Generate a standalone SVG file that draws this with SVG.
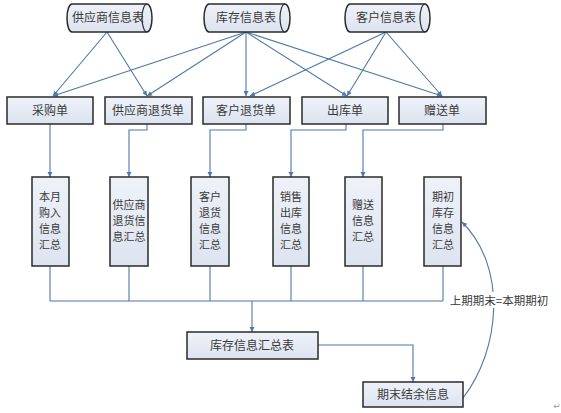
<svg xmlns="http://www.w3.org/2000/svg" width="561" height="413" viewBox="0 0 561 413">
<defs>
<linearGradient id="g" x1="0" y1="0" x2="0" y2="1"><stop offset="0" stop-color="#eef1f8"/><stop offset="1" stop-color="#dde4f0"/></linearGradient>
<marker id="a" markerWidth="6" markerHeight="6" refX="5" refY="3" orient="auto" markerUnits="userSpaceOnUse"><path d="M0,0.5 L5,3 L0,5.5 Z" fill="#4f77aa"/></marker>
</defs>
<style>
.b{fill:url(#g);stroke:#2a2a2a;stroke-width:1.5}
.t{font-family:"Noto Sans CJK SC","Noto Sans CJK JP",sans-serif;font-size:12px;fill:#3a3a3a;text-anchor:middle}
.v{font-size:11px}
.c{fill:none;stroke:#4f77aa;stroke-width:1.1}
</style>
<rect width="561" height="413" fill="#fff"/>
<g id="connectors">
<path class="c" marker-end="url(#a)" d="M107,32 L53,96"/>
<path class="c" marker-end="url(#a)" d="M107,32 L147,96"/>
<path class="c" marker-end="url(#a)" d="M246,32 L53,96"/>
<path class="c" marker-end="url(#a)" d="M246,32 L147,96"/>
<path class="c" marker-end="url(#a)" d="M246,32 L246,96"/>
<path class="c" marker-end="url(#a)" d="M246,32 L347,96"/>
<path class="c" marker-end="url(#a)" d="M246,32 L442,96"/>
<path class="c" marker-end="url(#a)" d="M386,32 L250,96"/>
<path class="c" marker-end="url(#a)" d="M386,32 L347,96"/>
<path class="c" marker-end="url(#a)" d="M386,32 L442,96"/>
<path class="c" marker-end="url(#a)" d="M50,124 V177"/>
<path class="c" marker-end="url(#a)" d="M147,124 V130 H129 V177"/>
<path class="c" marker-end="url(#a)" d="M246,124 V130 H210 V177"/>
<path class="c" marker-end="url(#a)" d="M346,124 V130 H291 V177"/>
<path class="c" marker-end="url(#a)" d="M443,124 V130 H363 V177"/>
<path class="c" d="M50,266 V301 M129,266 V301 M210,266 V301 M291,266 V301 M363,266 V301 M443,266 V301 M50,301 H443"/>
<path class="c" marker-end="url(#a)" d="M252,301 V332"/>
<path class="c" marker-end="url(#a)" d="M318,345 H413 V382"/>
<path class="c" marker-end="url(#a)" d="M463,398 C500,350 508,268 462,222"/>
</g>
<g id="n1"><path class="b" d="M72,4 H147 A5,14 0 0 1 147,32 H72 A5,14 0 0 1 72,4 Z"/><path fill="none" stroke="#2a2a2a" stroke-width="1.2" d="M147,4 A5,14 0 0 0 147,32"/><text class="t" x="108" y="22">供应商信息表</text></g>
<g id="n2"><path class="b" d="M209,4 H285 A5,14 0 0 1 285,32 H209 A5,14 0 0 1 209,4 Z"/><path fill="none" stroke="#2a2a2a" stroke-width="1.2" d="M285,4 A5,14 0 0 0 285,32"/><text class="t" x="246" y="22">库存信息表</text></g>
<g id="n3"><path class="b" d="M350,4 H425 A5,14 0 0 1 425,32 H350 A5,14 0 0 1 350,4 Z"/><path fill="none" stroke="#2a2a2a" stroke-width="1.2" d="M425,4 A5,14 0 0 0 425,32"/><text class="t" x="386" y="22">客户信息表</text></g>
<g id="r1"><rect class="b" x="7" y="97" width="86" height="27"/><text class="t" x="50" y="115">采购单</text></g>
<g id="r2"><rect class="b" x="105" y="97" width="87" height="27"/><text class="t" x="148" y="115">供应商退货单</text></g>
<g id="r3"><rect class="b" x="203" y="97" width="87" height="27"/><text class="t" x="246" y="115">客户退货单</text></g>
<g id="r4"><rect class="b" x="302" y="97" width="86" height="27"/><text class="t" x="345" y="115">出库单</text></g>
<g id="r5"><rect class="b" x="399" y="97" width="87" height="27"/><text class="t" x="442" y="115">赠送单</text></g>
<g id="v1"><rect class="b" x="32" y="177" width="37" height="89"/><text class="t v" y="201"><tspan x="50">本月</tspan><tspan x="50" dy="16">购入</tspan><tspan x="50" dy="16">信息</tspan><tspan x="50" dy="16">汇总</tspan></text></g>
<g id="v2"><rect class="b" x="110" y="177" width="38" height="89"/><text class="t v" y="209"><tspan x="129">供应商</tspan><tspan x="129" dy="16">退货信</tspan><tspan x="129" dy="16">息汇总</tspan></text></g>
<g id="v3"><rect class="b" x="191" y="177" width="38" height="89"/><text class="t v" y="201"><tspan x="210">客户</tspan><tspan x="210" dy="16">退货</tspan><tspan x="210" dy="16">信息</tspan><tspan x="210" dy="16">汇总</tspan></text></g>
<g id="v4"><rect class="b" x="273" y="177" width="36" height="89"/><text class="t v" y="201"><tspan x="291">销售</tspan><tspan x="291" dy="16">出库</tspan><tspan x="291" dy="16">信息</tspan><tspan x="291" dy="16">汇总</tspan></text></g>
<g id="v5"><rect class="b" x="345" y="177" width="37" height="89"/><text class="t v" y="209"><tspan x="363">赠送</tspan><tspan x="363" dy="16">信息</tspan><tspan x="363" dy="16">汇总</tspan></text></g>
<g id="v6"><rect class="b" x="424" y="177" width="37" height="89"/><text class="t v" y="201"><tspan x="443">期初</tspan><tspan x="443" dy="16">库存</tspan><tspan x="443" dy="16">信息</tspan><tspan x="443" dy="16">汇总</tspan></text></g>
<g id="sum"><rect class="b" x="187" y="332" width="131" height="27"/><text class="t" x="252" y="350">库存信息汇总表</text></g>
<g id="end"><rect class="b" x="363" y="382" width="100" height="25"/><text class="t" x="413" y="399">期末结余信息</text></g>
<g id="label"><rect x="449" y="292" width="100" height="16" fill="#fff"/><text class="t" x="499" y="305" style="font-size:11.5px">上期期末=本期期初</text></g>
<text x="557" y="409" style="font-family:'DejaVu Sans',sans-serif;font-size:9px;fill:#999;text-anchor:middle">↵</text>
</svg>
